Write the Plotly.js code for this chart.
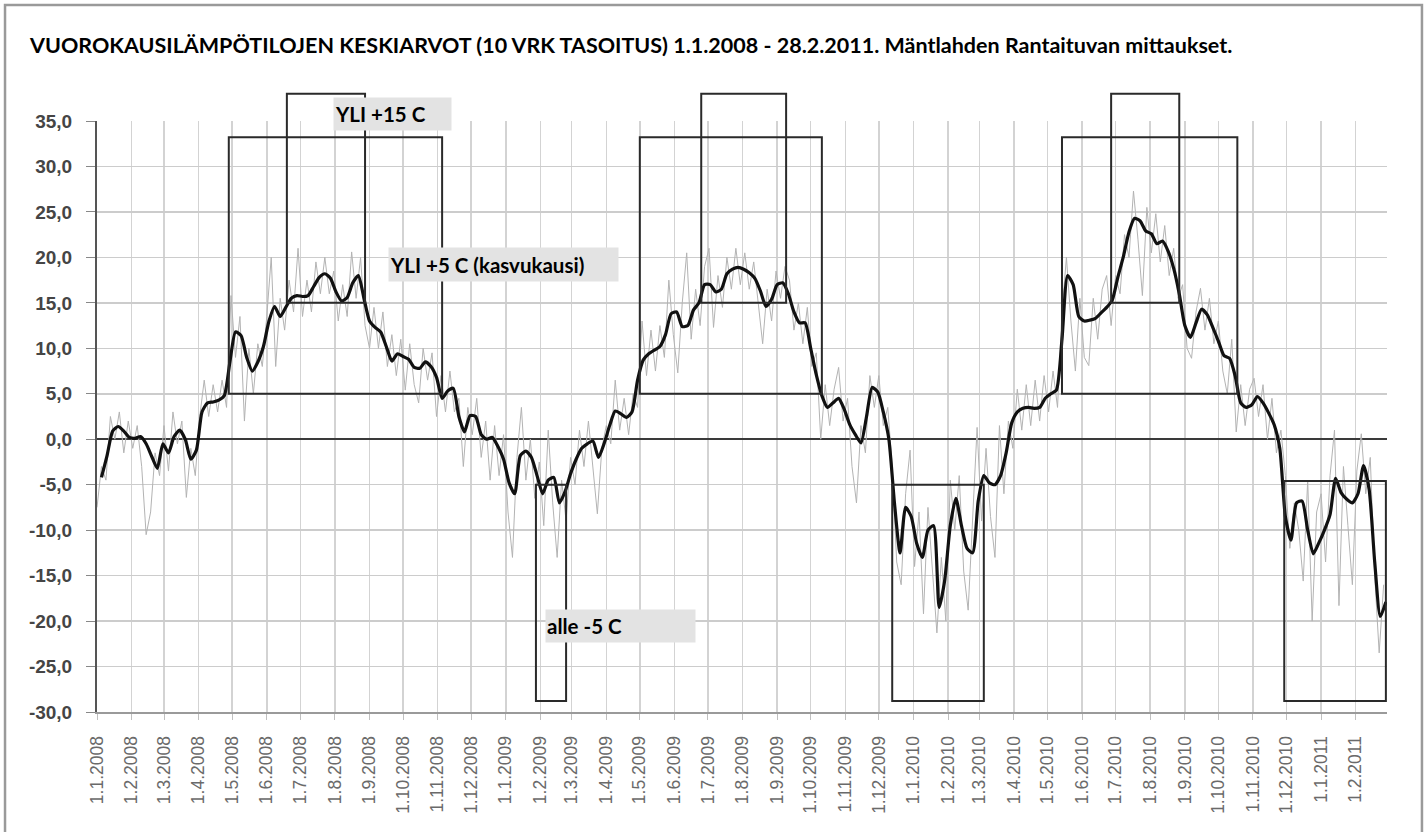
<!DOCTYPE html>
<html>
<head>
<meta charset="utf-8">
<script src="https://cdn.plot.ly/plotly-3.0.1.min.js"></script>
<style>
  html, body { margin: 0; padding: 0; background: #ffffff; }
  #chart { width: 1427px; height: 832px; }
</style>
</head>
<body>
<div id="chart"></div>
<script>
// ---------- DATA ----------
const chartTitle = 'VUOROKAUSILÄMPÖTILOJEN KESKIARVOT (10 VRK TASOITUS) 1.1.2008 - 28.2.2011. Mäntlahden Rantaituvan mittaukset.';

const xTickLabels = [
  '1.1.2008','1.2.2008','1.3.2008','1.4.2008','1.5.2008','1.6.2008','1.7.2008','1.8.2008','1.9.2008','1.10.2008','1.11.2008','1.12.2008',
  '1.1.2009','1.2.2009','1.3.2009','1.4.2009','1.5.2009','1.6.2009','1.7.2009','1.8.2009','1.9.2009','1.10.2009','1.11.2009','1.12.2009',
  '1.1.2010','1.2.2010','1.3.2010','1.4.2010','1.5.2010','1.6.2010','1.7.2010','1.8.2010','1.9.2010','1.10.2010','1.11.2010','1.12.2010',
  '1.1.2011','1.2.2011'
];
const yTickValues = [-30, -25, -20, -15, -10, -5, 0, 5, 10, 15, 20, 25, 30, 35];
const yTickLabels = ['-30,0','-25,0','-20,0','-15,0','-10,0','-5,0','0,0','5,0','10,0','15,0','20,0','25,0','30,0','35,0'];

// 10-day smoothed mean, one reading every 5 days from 5.1.2008
const smoothStart = '2008-01-05';
const smoothStepDays = 5;
const smoothValues = [
  -4.2, -1.8, 0.9, 1.4, 0.9, 0.2, 0.1, 0.3, -0.5, -1.9,
  -3.2, -0.5, -1.5, 0.3, 1.0, 0.0, -2.2, -1.2, 3.0, 4.0,
  4.1, 4.3, 4.8, 8.5, 11.8, 11.4, 9.0, 7.5, 8.5, 10.2,
  13.0, 14.6, 13.5, 14.5, 15.5, 15.8, 15.7, 15.8, 16.8, 17.8,
  18.2, 17.7, 16.2, 15.2, 15.6, 17.2, 18.0, 15.5, 13.0, 12.3,
  11.8, 10.2, 8.6, 9.4, 9.1, 8.8, 7.9, 7.8, 8.5, 8.0,
  6.8, 4.5, 5.3, 5.6, 2.5, 0.8, 2.6, 2.5, 0.5, 0.0,
  0.2, -0.8, -2.2, -4.8, -6.0, -1.8, -1.3, -2.0, -4.0, -6.0,
  -4.5, -4.2, -7.0, -5.8, -3.8, -2.2, -1.0, -0.5, -0.2, -2.0,
  -0.5, 1.5, 3.1, 2.8, 2.4, 3.0, 6.5, 8.7, 9.4, 9.8,
  10.2, 11.5, 13.8, 14.0, 12.4, 12.5, 14.2, 15.0, 17.0, 17.0,
  16.2, 16.5, 18.2, 18.7, 18.9, 18.7, 18.3, 17.7, 16.3, 14.6,
  15.4, 17.0, 17.2, 16.0, 14.0, 12.8, 12.8, 10.0, 7.1, 4.8,
  3.5, 4.0, 4.5, 3.3, 1.6, 0.5, -0.4, 2.5, 5.7, 5.2,
  3.0, 0.0, -7.0, -12.5, -7.5, -8.5, -11.5, -13.0, -10.0, -9.5,
  -18.5, -15.5, -9.5, -6.5, -9.5, -12.0, -12.5, -6.8, -4.0, -4.8,
  -5.0, -4.0, -1.5, 1.8, 3.0, 3.4, 3.5, 3.4, 3.5, 4.5,
  5.0, 5.4, 11.0, 18.0, 17.0, 13.5, 13.0, 13.1, 13.3, 13.9,
  14.5, 15.3, 17.8, 20.1, 22.8, 24.3, 24.0, 22.9, 22.6, 21.5,
  21.8, 20.7, 18.8, 16.0, 12.5, 11.2, 12.8, 14.3, 13.7, 12.3,
  10.8, 9.2, 8.9, 7.0, 4.0, 3.5, 3.8, 4.7, 4.0, 2.9,
  1.6, -1.0, -8.5, -11.1, -7.0, -6.8, -10.0, -12.6, -11.4, -10.0,
  -8.3, -4.3, -5.9, -6.6, -7.0, -6.0, -2.9, -5.5, -13.5, -19.5,
  -17.9
];

// daily means (thin grey line), one reading every 4 days from 1.1.2008
const dailyStart = '2008-01-01';
const dailyStepDays = 4;
const dailyValues = [
  -7.5, -3.0, -4.5, 2.5, 0.0, 3.0, -1.5, 2.0, -1.0, 1.5,
  -3.0, -10.5, -8.0, -1.5, -4.0, 1.5, -3.5, 3.0, -0.5, 2.0,
  -6.4, -1.0, -4.0, 2.5, 6.5, 2.5, 6.0, 3.0, 6.5, 3.5,
  15.8, 9.0, 13.5, 2.0, 10.0, 5.0, 10.5, 8.0, 13.5, 20.0,
  8.0, 15.5, 12.0, 17.5, 14.0, 21.0, 13.5, 17.5, 14.0, 19.5,
  16.0, 20.0, 16.0, 18.5, 13.0, 17.0, 13.5, 20.6, 15.5, 20.0,
  12.5, 10.0, 14.5, 10.0, 14.0, 8.0, 11.5, 7.0, 11.0, 5.4,
  10.5, 6.0, 4.0, 10.0, 6.5, 9.5, 2.5, 7.0, 3.0, 7.5,
  3.0, 4.5, -3.0, 3.5, 0.5, 4.5, -2.0, 2.0, -4.5, 1.5,
  -4.0, 0.5, -8.0, -13.0, -2.0, 3.5, -4.5, 0.0, -6.5, -2.5,
  -9.5, 1.0, -7.0, -13.0, -4.5, -9.0, -2.0, -5.0, 1.0, -3.0,
  2.0, -3.5, -8.2, -1.0, 1.5, -0.5, 6.5, 1.0, 4.5, 0.5,
  5.0, 3.5, 13.0, 7.0, 12.0, 7.5, 12.5, 9.0, 17.5, 11.5,
  7.3, 15.0, 20.5, 11.0, 16.5, 12.5, 19.0, 21.0, 12.3, 18.0,
  14.5, 20.0, 16.5, 21.0, 17.0, 20.5, 16.5, 19.5, 15.0, 10.5,
  16.5, 13.0, 18.5, 15.5, 19.0, 17.5, 12.0, 15.0, 10.5, 14.5,
  8.0, 9.5, 0.0, 6.0, 1.5, 5.5, 7.9, 2.0, 4.5, -3.0,
  -7.0, 1.5, -1.5, 7.0, 3.5, 7.0, 1.5, 3.5, -3.0, -13.5,
  -16.0, -6.0, -1.2, -14.0, -8.0, -19.2, -7.5, -14.0, -21.3, -13.0,
  -20.0, -4.5, -10.0, -4.0, -14.5, -18.8, -8.0, 1.3, -9.0, -1.0,
  -8.5, -13.0, 1.5, -6.0, 2.0, -1.0, 5.5, 1.0, 6.0, 1.5,
  6.5, 2.0, 7.0, 3.0, 7.5, 3.5, 14.0, 20.0, 13.0, 7.5,
  15.5, 9.0, 8.1, 15.5, 11.0, 16.5, 18.0, 12.5, 18.0, 16.0,
  22.5, 20.0, 27.3, 22.0, 15.8, 25.5, 20.5, 24.8, 19.5, 23.5,
  18.0, 21.0, 15.5, 17.0, 10.0, 8.9, 14.0, 16.6, 12.0, 15.5,
  10.5, 13.0, 7.5, 5.0, 11.0, 0.8, 6.0, 1.5, 5.5, 6.7,
  2.5, 6.0, 0.0, 4.5, -1.5, 1.0, -4.0, -12.0, -7.0, -10.0,
  -15.6, -4.5, -20.0, -8.0, -6.0, -13.5, -4.0, 1.0, -18.3, -3.0,
  -9.5, -16.0, -3.5, 0.6, -6.0, -2.0, -15.0, -23.5, -16.0
];

// period boxes
const growStart = ['2008-04-28', '2009-05-01', '2010-05-14'];
const growEnd   = ['2008-11-05', '2009-10-11', '2010-10-18'];
const growLow = 5, growHigh = 33.2;
const warmStart = ['2008-06-19', '2009-06-25', '2010-06-27'];
const warmEnd   = ['2008-08-28', '2009-09-09', '2010-08-27'];
const warmLow = 15, warmHigh = 38;
const coldStart = ['2009-01-28', '2009-12-13', '2010-11-29'];
const coldEnd   = ['2009-02-24', '2010-03-05', '2011-02-28'];
const coldTop = [-5, -5, -4.6];
const coldBottom = -28.8;

const labelWarm = 'YLI +15 C';
const labelGrow = 'YLI +5 C (kasvukausi)';
const labelCold = 'alle -5 C';

// ---------- BUILD ----------
function addDays(iso, n) {
  const d = new Date(iso + 'T00:00:00Z');
  d.setUTCDate(d.getUTCDate() + n);
  return d.toISOString().slice(0, 10);
}
function labelToIso(lbl) {
  const p = lbl.split('.');
  return p[2] + '-' + p[1].padStart(2, '0') + '-' + p[0].padStart(2, '0');
}
const smoothDates = smoothValues.map((v, i) => addDays(smoothStart, i * smoothStepDays));
const dailyDates = dailyValues.map((v, i) => addDays(dailyStart, i * dailyStepDays));
const xTickValues = xTickLabels.map(labelToIso);

const yMin = -30, yMax = 35;
const toPaper = v => (v - yMin) / (yMax - yMin);

const boxLine = { color: '#2a2a2a', width: 2 };
const shapes = [];
function addBox(x0, x1, lo, hi) {
  shapes.push({ type: 'rect', xref: 'x', yref: 'paper', x0: x0, x1: x1,
    y0: toPaper(lo), y1: toPaper(hi), line: boxLine, fillcolor: 'rgba(0,0,0,0)', layer: 'above' });
}
growStart.forEach((s, i) => addBox(s, growEnd[i], growLow, growHigh));
warmStart.forEach((s, i) => addBox(s, warmEnd[i], warmLow, warmHigh));
coldStart.forEach((s, i) => addBox(s, coldEnd[i], coldBottom, coldTop[i]));
// outer frame of the picture
shapes.push({ type: 'rect', xref: 'paper', yref: 'paper', x0: -0.0713, x1: 1.0271, y0: -0.25, y1: 1.1963,
  line: { color: '#9a9a9a', width: 2.5 }, fillcolor: 'rgba(0,0,0,0)', layer: 'above' });

const annFont = { family: 'Lato, sans-serif', size: 20.5, weight: 'bold', color: '#000' };
const annotations = [
  { xref: 'paper', yref: 'paper', x: 0.183, y: 1.012, xanchor: 'left', yanchor: 'middle',
    text: labelWarm, showarrow: false, bgcolor: '#e3e3e3', width: 115, height: 30, align: 'left', font: annFont, borderpad: 1 },
  { xref: 'paper', yref: 'paper', x: 0.2256, y: 0.757, xanchor: 'left', yanchor: 'middle',
    text: labelGrow, showarrow: false, bgcolor: '#e3e3e3', width: 227, height: 31, align: 'left', font: annFont, borderpad: 1 },
  { xref: 'paper', yref: 'paper', x: 0.347, y: 0.1455, xanchor: 'left', yanchor: 'middle',
    text: labelCold, showarrow: false, bgcolor: '#e3e3e3', width: 147, height: 30, align: 'left', font: annFont, borderpad: 1 }
];

const traces = [
  { type: 'scatter', mode: 'lines', x: dailyDates, y: dailyValues,
    line: { color: '#b3b3b3', width: 1 }, hoverinfo: 'skip' },
  { type: 'scatter', mode: 'lines', x: smoothDates, y: smoothValues,
    line: { color: '#111111', width: 3.2, shape: 'spline', smoothing: 0.6 } }
];

const layout = {
  width: 1427, height: 832,
  margin: { l: 97, r: 40, t: 121, b: 120, pad: 0 },
  paper_bgcolor: '#ffffff', plot_bgcolor: '#ffffff',
  showlegend: false,
  title: { text: chartTitle, xref: 'container', yref: 'container', x: 30 / 1427, xanchor: 'left',
    y: 1 - 45 / 832, yanchor: 'middle',
    font: { family: 'Lato, sans-serif', size: 21.5, weight: 'bold', color: '#000' } },
  xaxis: {
    type: 'date', range: ['2008-01-01', '2011-03-01'],
    tickmode: 'array', tickvals: xTickValues, ticktext: xTickLabels, tickangle: -90,
    tickfont: { family: 'Liberation Sans, Arial, sans-serif', size: 17.5, color: '#6a6a6a' },
    showgrid: true, gridcolor: '#d3d3d3', gridwidth: 1.5,
    showline: true, linecolor: '#9a9a9a', linewidth: 2,
    ticks: 'outside', ticklen: 6, tickcolor: '#c0c0c0', ticklabelstandoff: 9,
    zeroline: false
  },
  yaxis: {
    range: [yMin, yMax], tickmode: 'array', tickvals: yTickValues, ticktext: yTickLabels,
    tickfont: { family: 'Liberation Sans, Arial, sans-serif', size: 19, weight: 'bold', color: '#454545' },
    showgrid: true, gridcolor: '#cccccc', gridwidth: 1.5,
    showline: true, linecolor: '#555555', linewidth: 2,
    ticks: 'outside', ticklen: 9, tickcolor: '#888', ticklabelstandoff: 10,
    zeroline: true, zerolinecolor: '#3a3a3a', zerolinewidth: 2.5
  },
  shapes: shapes,
  annotations: annotations
};

Plotly.newPlot('chart', traces, layout, { displayModeBar: false, staticPlot: true });
</script>
</body>
</html>
